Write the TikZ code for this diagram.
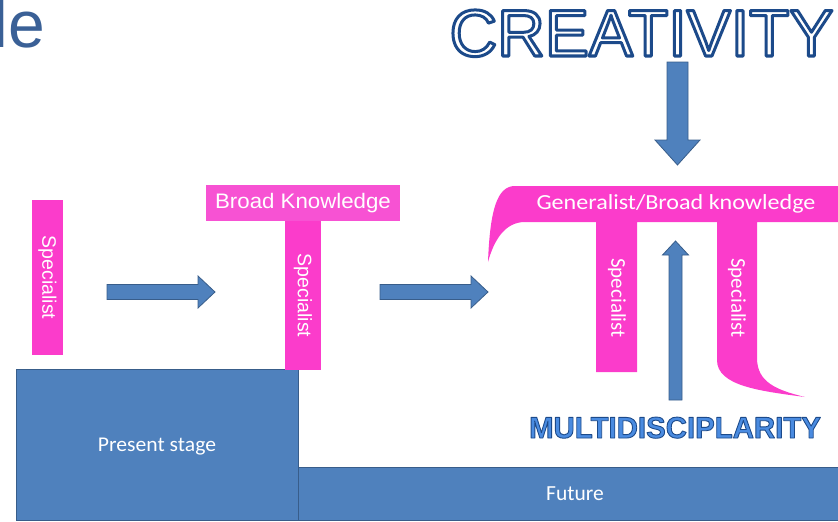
\documentclass[tikz,border=0pt]{standalone}
\usepackage{fontspec}
\setmainfont{Liberation Sans}
\newfontfamily\carl{Carlito}
\definecolor{pk}{HTML}{FB3CCB}
\definecolor{pkl}{HTML}{F752D3}
\definecolor{bl}{HTML}{4F81BD}
\definecolor{bld}{HTML}{385D8A}
\definecolor{ttl}{HTML}{3A6096}
\definecolor{navy}{HTML}{1C4A8A}
\definecolor{midb}{HTML}{4A8BE0}
\newcommand{\outlinetext}[3]{% stroke width, stroke rgb, text
  \special{pdf:literal direct 2 Tr #1 w 1 j #2 RG}#3\special{pdf:literal direct 0 Tr}}
\tikzset{
  pinkbar/.style={fill=pk, text=white, inner sep=0pt, rotate=-90},
  bluebox/.style={fill=bl, draw=bld, line width=0.8pt},
  blockarrow/.style={fill=bl, draw=bld, line width=0.8pt},
  lbl/.style={text=white, inner sep=0pt},
}
\begin{document}
\begin{tikzpicture}[x=1pt,y=-1pt]
\useasboundingbox (0,0) rectangle (838,522);
% title fragment
\node[anchor=base west, inner sep=0pt, text=ttl, font=\fontsize{66}{72}\selectfont] (ttl) at (-6.5,47) {le};
% bottom boxes
\node[bluebox, minimum width=282pt, minimum height=151pt, anchor=north west] (present) at (16,369) {};
\node[bluebox, minimum width=545pt, minimum height=53pt, anchor=north west] (future) at (298,467) {};
\node[lbl, font=\carl\fontsize{21}{24}\selectfont, xscale=1.03] (pt) at (157,447) {Present stage};
\node[lbl, font=\carl\fontsize{21.5}{24}\selectfont] (ft) at (575,494) {Future};
% left specialist
\node[pinkbar, minimum width=155pt, minimum height=31pt, font=\fontsize{19.5}{22}\selectfont] (s1) at (47.5,277.5) {Specialist};
% T shape
\node[fill=pkl, text=white, inner sep=0pt, minimum width=194pt, minimum height=36pt] (broad) at (303,203) {};
\node[lbl, font=\fontsize{21}{24}\selectfont, xscale=1.06] (broadt) at (303,203) {Broad Knowledge};
\node[pinkbar, minimum width=149pt, minimum height=36pt, font=\fontsize{19.5}{22}\selectfont] (s2) at (303,295.5) {Specialist};
% Pi shape
\fill[pk] (515,186) .. controls (497,186) and (490,210) .. (488,262)
  .. controls (494,240) and (505,222) .. (525,222)
  -- (596,222) -- (596,372) -- (637,372) -- (637,222) -- (717,222) -- (717,360)
  .. controls (717,386) and (760,391) .. (805,397)
  .. controls (776,390) and (757,382) .. (757,358)
  -- (757,222) -- (838,222) -- (838,186) -- cycle;
\node[lbl, font=\carl\fontsize{21.5}{24}\selectfont, xscale=1.12] (gen) at (676,204) {Generalist/Broad knowledge};
\node[lbl, rotate=-90, font=\carl\fontsize{21}{24}\selectfont] (s3) at (617,298) {Specialist};
\node[lbl, rotate=-90, font=\carl\fontsize{21}{24}\selectfont] (s4) at (737,298) {Specialist};
% arrows right
\coordinate (a1) at (107,292);
\coordinate (a2) at (380,292);
\foreach \s in {a1,a2}{
  \draw[blockarrow] ([shift={(0,-7.5)}]\s) -- ++(91,0) -- ++(0,-8.5) -- ++(17,16) -- ++(-17,16) -- ++(0,-8.5) -- ++(-91,0) -- cycle;
}
% creativity arrow (down)
\coordinate (cr) at (677.5,62);
\draw[blockarrow] ([shift={(-10.5,0)}]cr) -- ++(21,0) -- ++(0,78) -- ++(12,0) -- ++(-22.5,25) -- ++(-22.5,-25) -- ++(12,0) -- cycle;
% multidisciplinarity arrow (up)
\coordinate (md) at (675.5,400);
\draw[blockarrow] ([shift={(-6.5,0)}]md) -- ++(13,0) -- ++(0,-145) -- ++(6.5,0) -- ++(-13,-14) -- ++(-13,14) -- ++(6.5,0) -- cycle;
% CREATIVITY
\node[anchor=base, inner sep=0pt, text=white, font=\fontsize{66}{72}\selectfont] (crt) at (641.5,56)
  {\outlinetext{3}{0.110 0.290 0.541}{CREATIVITY}};
% MULTIDISCIPLARITY
\node[anchor=base, inner sep=0pt, text=midb, font=\bfseries\fontsize{30}{34}\selectfont, xscale=0.98] (mdt) at (675,438)
  {\outlinetext{0.9}{0.110 0.290 0.541}{MULTIDISCIPLARITY}};
\end{tikzpicture}
\end{document}
